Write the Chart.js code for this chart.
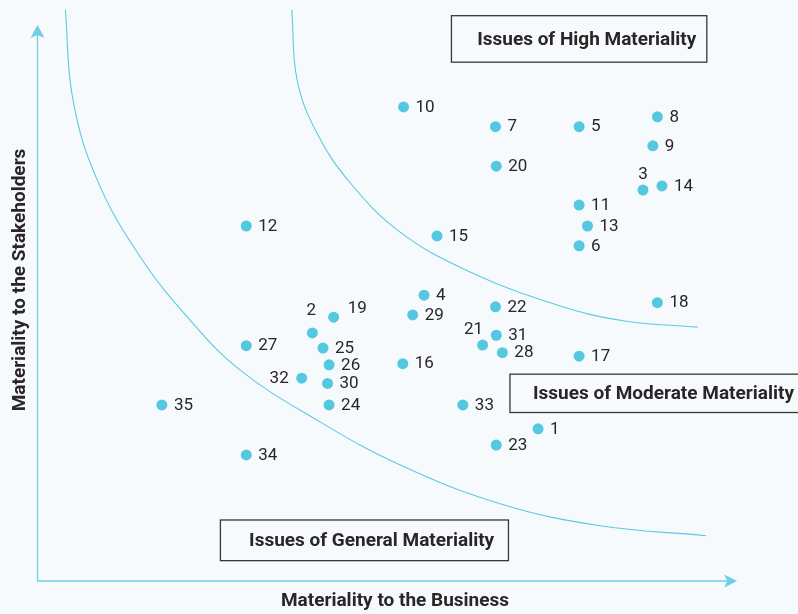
<!DOCTYPE html>
<html>
<head>
<meta charset="utf-8">
<script src="https://cdn.jsdelivr.net/npm/chart.js@4.4.1/dist/chart.umd.min.js"></script>
<style>
  body { margin: 0; background: #f7fafc; }
  canvas { display: block; }
</style>
</head>
<body>
<canvas id="matrix" width="798" height="614"></canvas>
<script>
// issue numbers and their scores (x = business, y = stakeholders), 0-100 scale
const issueIds = [1, 2, 3, 4, 5, 6, 7, 8, 9, 10, 11, 12, 13, 14, 15, 16, 17, 18,
  19, 20, 21, 22, 23, 24, 25, 26, 27, 28, 29, 30, 31, 32, 33, 34, 35];
const businessScore = [65.8, 36.1, 79.6, 50.8, 71.2, 71.2, 60.2, 81.5, 80.9, 48.1,
  71.2, 27.4, 72.3, 82.1, 52.5, 48.0, 71.2, 81.5, 38.9, 60.3, 58.5, 60.2, 60.3,
  38.3, 37.5, 38.3, 27.4, 61.1, 49.3, 38.1, 60.3, 34.7, 55.9, 27.4, 16.3];
const stakeholderScore = [26.2, 42.7, 67.3, 49.2, 78.2, 57.7, 78.2, 79.9, 74.9, 81.6,
  64.7, 61.1, 61.1, 68.0, 59.4, 37.4, 38.7, 47.9, 45.4, 71.4, 40.6, 47.2, 23.4,
  30.3, 40.1, 37.2, 40.5, 39.3, 45.8, 34.0, 42.3, 34.9, 30.3, 21.7, 30.3];

// boundary curves between the materiality zones
const outerCurveX = [3.6, 4.6, 7.8, 13.4, 20.0, 26.6, 36.7, 47.6, 60.8, 74.0, 87.9];
const outerCurveY = [98.3, 82.8, 69.0, 55.9, 44.9, 36.3, 27.7, 20.0, 13.3, 9.5, 7.8];
const innerCurveX = [33.4, 34.1, 36.7, 41.1, 47.6, 56.5, 68.3, 77.0, 86.8];
const innerCurveY = [98.3, 86.2, 77.1, 68.5, 60.1, 53.4, 47.5, 44.8, 43.7];

const zoneLabels = ['Issues of High Materiality', 'Issues of Moderate Materiality', 'Issues of General Materiality'];
const xTitle = 'Materiality to the Business';
const yTitle = 'Materiality to the Stakeholders';

const cyan = '#55c8e1';
const ink = '#2a2526';

// label placement tweaks for crowded points: [dx, dy, align]
const labelNudge = {
  2: [-1, -22, 'center'],
  3: [0, -15, 'center'],
  19: [14, -8, 'left'],
  21: [-9, -15, 'center'],
  32: [-13, 1, 'right']
};

// zone boxes in data units: x0, x1, yTop, yBottom, text centre x
const zoneBoxes = [
  [54.4, 88.0, 97.3, 89.3, 72.2],
  [62.1, 101, 35.6, 29.0, 82.3],
  [24.0, 61.9, 10.5, 3.5, 43.9]
];

function toPoints(xs, ys) {
  return xs.map((x, i) => ({ x: x, y: ys[i] }));
}

const backdrop = {
  id: 'backdrop',
  beforeDraw(chart) {
    const c = chart.ctx;
    c.save();
    c.fillStyle = '#f7fafc';
    c.fillRect(0, 0, chart.width, chart.height);
    c.restore();
  }
};

const axesArrows = {
  id: 'axesArrows',
  beforeDatasetsDraw(chart) {
    const c = chart.ctx;
    const xs = chart.scales.x, ys = chart.scales.y;
    const ox = xs.getPixelForValue(0) - 0.5;
    const oy = ys.getPixelForValue(0);
    const tipY = ys.getPixelForValue(95.7);
    const tipX = xs.getPixelForValue(92);
    c.save();
    c.strokeStyle = '#6fcfe5';
    c.fillStyle = '#6fcfe5';
    c.lineWidth = 1.3;
    c.beginPath();
    c.moveTo(ox, tipY + 8);
    c.lineTo(ox, oy);
    c.lineTo(tipX - 8, oy);
    c.stroke();
    // y arrow head
    c.beginPath();
    c.moveTo(ox, tipY);
    c.lineTo(ox + 7, tipY + 13);
    c.lineTo(ox, tipY + 10);
    c.lineTo(ox - 7, tipY + 13);
    c.closePath();
    c.fill();
    // x arrow head
    c.beginPath();
    c.moveTo(tipX, oy);
    c.lineTo(tipX - 13, oy - 6.5);
    c.lineTo(tipX - 10, oy);
    c.lineTo(tipX - 13, oy + 6.5);
    c.closePath();
    c.fill();
    c.restore();
  }
};

const annotations = {
  id: 'annotations',
  afterDatasetsDraw(chart) {
    const c = chart.ctx;
    const xs = chart.scales.x, ys = chart.scales.y;
    c.save();

    // issue numbers next to dots
    const meta = chart.getDatasetMeta(2);
    c.font = '17px Roboto';
    c.fillStyle = ink;
    c.textBaseline = 'middle';
    meta.data.forEach((pt, i) => {
      const id = issueIds[i];
      const n = labelNudge[id] || [12, 0.5, 'left'];
      c.textAlign = n[2];
      c.fillText(String(id), pt.x + n[0], pt.y + n[1]);
    });

    // zone boxes
    c.font = 'bold 19px Roboto';
    c.strokeStyle = '#3b3536';
    c.lineWidth = 1.3;
    c.textAlign = 'center';
    zoneBoxes.forEach((b, i) => {
      const x0 = xs.getPixelForValue(b[0]), x1 = xs.getPixelForValue(b[1]);
      const y0 = ys.getPixelForValue(b[2]), y1 = ys.getPixelForValue(b[3]);
      c.strokeRect(x0, y0, x1 - x0, y1 - y0);
      c.fillText(zoneLabels[i], xs.getPixelForValue(b[4]), (y0 + y1) / 2 + 1);
    });

    // axis titles
    c.fillText(xTitle, 395, 601);
    c.translate(20, 280);
    c.rotate(-Math.PI / 2);
    c.fillText(yTitle, 0, 0);
    c.restore();
  }
};

const curveStyle = {
  showLine: true,
  borderColor: '#5ccae2',
  borderWidth: 1.1,
  pointRadius: 0,
  tension: 0.4
};

new Chart(document.getElementById('matrix'), {
  type: 'scatter',
  data: {
    datasets: [
      Object.assign({ data: toPoints(outerCurveX, outerCurveY) }, curveStyle),
      Object.assign({ data: toPoints(innerCurveX, innerCurveY) }, curveStyle),
      {
        data: toPoints(businessScore, stakeholderScore),
        backgroundColor: cyan,
        borderWidth: 0,
        pointRadius: 5.5
      }
    ]
  },
  options: {
    responsive: false,
    animation: false,
    layout: { autoPadding: false, padding: { left: 38, right: 0, top: 0, bottom: 33 } },
    scales: {
      x: { type: 'linear', min: 0, max: 100, display: false },
      y: { type: 'linear', min: 0, max: 100, display: false }
    },
    plugins: {
      legend: { display: false },
      tooltip: { enabled: false }
    }
  },
  plugins: [backdrop, axesArrows, annotations]
});
</script>
</body>
</html>
